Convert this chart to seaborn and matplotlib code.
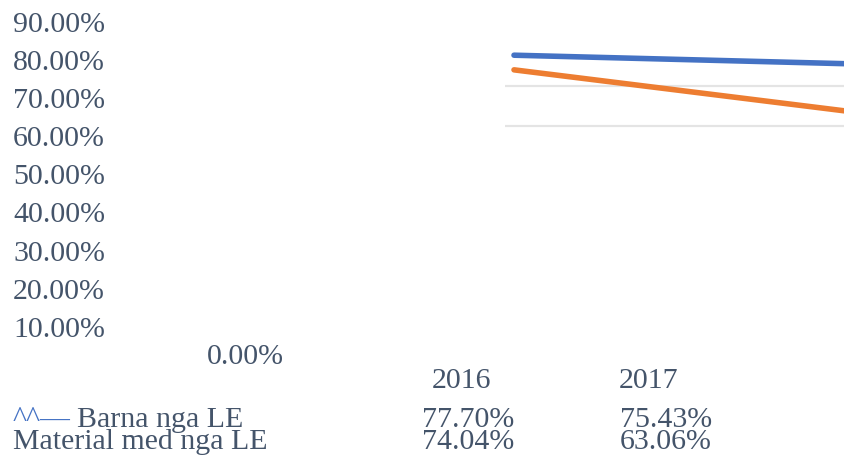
import matplotlib
matplotlib.use('Agg')
import matplotlib.pyplot as plt
import seaborn as sns
import pandas as pd

# Data
years = ['2016', '2017']
barna = [77.70, 75.43]
material = [74.04, 63.06]
series_names = ['Barna nga LE', 'Material med nga LE']
y_tick_values = [90, 80, 70, 60, 50, 40, 30, 20, 10, 0]
grid_levels = [60, 70]

sns.set_style('white')
plt.rcParams['font.family'] = ['Liberation Serif', 'DejaVu Serif']

TEXT = '#44546A'
BLUE = '#4472C4'
ORANGE = '#ED7D31'
FS = 21.5

W, H = 845, 460
fig = plt.figure(figsize=(W / 100, H / 100), dpi=100)


def fx(x):
    return x / W


def fy(y):
    return 1 - y / H


# plot area (pixels from top-left): 0% at y=367, 90% at y=7
left, right = 505, 900
bottom, top = 367, 7
ax = fig.add_axes([fx(left), fy(bottom), (right - left) / W, (bottom - top) / H])

df = pd.DataFrame({
    'year': years * 2,
    'value': barna + material,
    'series': [series_names[0]] * len(years) + [series_names[1]] * len(years),
})
sns.lineplot(data=df, x='year', y='value', hue='series', palette=[BLUE, ORANGE],
             linewidth=4.0, legend=False, sort=False, ax=ax,
             solid_capstyle='round')

# first category sits at x=514px, second at x=868px
x0_px, x1_px = 514, 868
span = x1_px - x0_px
ax.set_xlim(-(x0_px - left) / span, (right - x0_px) / span)
ax.set_ylim(0, 90)
ax.set_yticks(grid_levels)
ax.set_xticks([])
ax.tick_params(length=0, labelleft=False, labelbottom=False)
ax.grid(axis='y', color='#e4e4e4', linewidth=1.6)
ax.set_axisbelow(True)
ax.set_xlabel('')
ax.set_ylabel('')
sns.despine(ax=ax, left=True, bottom=True)

# value axis labels
for v in y_tick_values:
    label = f'{v:.2f}%'
    if v == 0:
        fig.text(fx(207), fy(364), label, ha='left', va='baseline',
                 fontsize=FS, color=TEXT)
    else:
        base = 32 + (90 - v) / 10 * 38.1
        fig.text(fx(13), fy(base), label, ha='left', va='baseline',
                 fontsize=FS, color=TEXT)

# category labels
year_x = [462, 649]
for yr, xc in zip(years, year_x):
    fig.text(fx(xc), fy(388), yr, ha='center', va='baseline',
             fontsize=FS, color=TEXT)

# data table
value_x = [468, 666]
fig.text(fx(13), fy(427), '^^\u2014', ha='left', va='baseline',
         fontsize=FS, color=BLUE)
fig.text(fx(77), fy(427), series_names[0], ha='left', va='baseline',
         fontsize=FS, color=TEXT)
fig.text(fx(13), fy(449), series_names[1], ha='left', va='baseline',
         fontsize=FS, color=TEXT)
for vals, base in [(barna, 427), (material, 449)]:
    for v, xc in zip(vals, value_x):
        fig.text(fx(xc), fy(base), f'{v:.2f}%', ha='center', va='baseline',
                 fontsize=FS, color=TEXT)

fig.savefig('out.png', dpi=100)
